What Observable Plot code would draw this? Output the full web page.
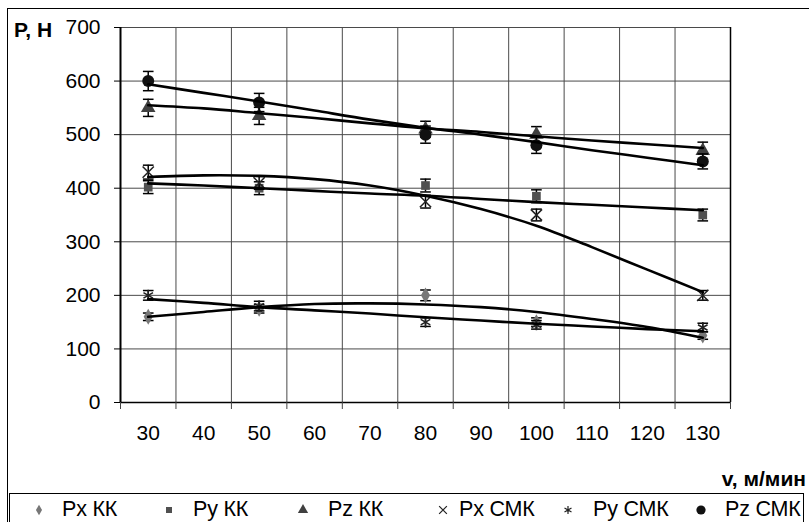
<!DOCTYPE html>
<html><head><meta charset="utf-8">
<script src="https://cdn.jsdelivr.net/npm/d3@7"></script>
<script src="https://cdn.jsdelivr.net/npm/@observablehq/plot@0.6"></script>
<style>
body{margin:0;background:#fff;font-family:"Liberation Sans",Arial,sans-serif;}
#wrap{position:relative;width:809px;height:522px;overflow:hidden;background:#fff;}
#chart{position:absolute;left:0;top:0;}
#frame{position:absolute;left:7px;top:8px;width:900px;height:700px;border:1px solid #000;pointer-events:none;}
.lbl{position:absolute;font-weight:bold;font-size:21px;line-height:21px;color:#000;white-space:nowrap;}
#legend{position:absolute;left:9px;top:493px;width:793px;height:60px;border:1px solid #000;background:#fff;}
.item{position:absolute;top:3px;height:24px;font-size:21.5px;line-height:24px;white-space:nowrap;letter-spacing:-0.2px;}
.item svg{position:absolute;top:1px;}
</style></head>
<body>
<div id="wrap">
  <div id="chart"></div>
  <div id="frame"></div>
  <div class="lbl" id="ylab" style="left:14px;top:19px;">P, H</div>
  <div class="lbl" id="xlab" style="right:3px;top:468px;">v, м/мин</div>
  <div id="legend"></div>
</div>
<script>
// ---- data ----
const categories = [30, 50, 80, 100, 130];
const xTicks = [30, 40, 50, 60, 70, 80, 90, 100, 110, 120, 130];
const xBoundaries = [25, 35, 45, 55, 65, 75, 85, 95, 105, 115, 125, 135];
const yTicks = [0, 100, 200, 300, 400, 500, 600, 700];
const seriesNames = ["Px КК", "Py КК", "Pz КК", "Px СМК", "Py СМК", "Pz СМК"];

const pxKK  = [160, 175, 200, 150, 125];
const pyKK  = [402, 400, 405, 385, 350];
const pzKK  = [550, 535, 510, 500, 470];
const pxSMK = [430, 410, 375, 350, 200];
const pySMK = [200, 180, 150, 145, 140];
const pzSMK = [600, 560, 500, 480, 450];

const errPxKK  = [7, 8, 10, 8, 7];
const errPyKK  = [12, 12, 12, 12, 11];
const errPzKK  = [16, 16, 15, 15, 16];
const errPxSMK = [13, 12, 12, 11, 9];
const errPySMK = [9, 9, 8, 8, 8];
const errPzSMK = [18, 17, 16, 15, 14];

// trend lines read at each category
const trendPxKK  = [160, 169, 178, 184, 185, 183, 178, 169, 156, 141, 121];
const trendPyKK  = [409, 405, 400, 395, 390, 386, 380, 374, 369, 364, 359];
const trendPzKK  = [555, 549, 540, 531, 521, 512, 505, 497, 489, 482, 475];
const trendPxSMK = [421, 424, 423, 417, 405, 386, 361, 330, 290, 248, 206];
const trendPySMK = [193, 186, 178, 172, 166, 159, 153, 147, 142, 137, 133];
const trendPzSMK = [594, 578, 562, 545, 528, 513, 500, 486, 471, 457, 443];

const values = [pxKK, pyKK, pzKK, pxSMK, pySMK, pzSMK];
const errs = [errPxKK, errPyKK, errPzKK, errPxSMK, errPySMK, errPzSMK];
const trends = [trendPxKK, trendPyKK, trendPzKK, trendPxSMK, trendPySMK, trendPzSMK];

// ---- styles ----
const styles = [
  {symbol: "diamond",  fill: "#777", stroke: "none", r: 4.8, sw: 0},
  {symbol: "square",   fill: "#505050", stroke: "none", r: 4.9, sw: 0},
  {symbol: "triangle", fill: "#404040", stroke: "none", r: 5.4, sw: 0},
  {symbol: "times",    fill: "none", stroke: "#222", r: 5.2, sw: 1.5},
  {symbol: "asterisk", fill: "none", stroke: "#222", r: 5.2, sw: 1.5},
  {symbol: "circle",   fill: "#111", stroke: "none", r: 6, sw: 0}
];

const points = [];
seriesNames.forEach((s, i) => categories.forEach((c, j) =>
  points.push({series: s, i, x: c, y: values[i][j], e: errs[i][j]})));
const trendRows = [];
seriesNames.forEach((s, i) => xTicks.forEach((c, j) =>
  trendRows.push({series: s, x: c, y: trends[i][j]})));

const cap = {draw(ctx, size) { const w = Math.sqrt(size) / 2; ctx.moveTo(-w, 0); ctx.lineTo(w, 0); }};

const marks = [
  Plot.ruleX(xBoundaries, {stroke: "#4a4a4a", strokeWidth: 1}),
  Plot.ruleY(yTicks, {stroke: "#4a4a4a", strokeWidth: 1}),
  Plot.ruleX([25], {stroke: "#000", strokeWidth: 2}),
  Plot.ruleX([135], {stroke: "#000", strokeWidth: 1.5}),
  Plot.ruleY([0], {stroke: "#000", strokeWidth: 1.5}),
  Plot.axisY({ticks: yTicks, tickSize: 6, tickPadding: 14, label: null, stroke: "#000", fill: "#000"}),
  Plot.axisX({ticks: xBoundaries, tickSize: 7, tickFormat: () => "", label: null, stroke: "#444"}),
  Plot.axisX({ticks: xTicks, tickSize: 0, tickPadding: 23, label: null, fill: "#000"})
];
seriesNames.forEach((s, i) => {
  const pts = points.filter(d => d.i === i);
  const st = styles[i];
  marks.push(
    Plot.ruleX(pts, {x: "x", y1: d => d.y - d.e, y2: d => d.y + d.e, stroke: "#000", strokeWidth: 1.5}),
    Plot.dot(pts, {x: "x", y: d => d.y + d.e, symbol: cap, r: 6, stroke: "#000", strokeWidth: 1.5}),
    Plot.dot(pts, {x: "x", y: d => d.y - d.e, symbol: cap, r: 6, stroke: "#000", strokeWidth: 1.5}),
    Plot.dot(pts, {x: "x", y: "y", symbol: st.symbol, r: st.r, fill: st.fill, stroke: st.stroke, strokeWidth: st.sw})
  );
});
marks.push(Plot.line(trendRows, {x: "x", y: "y", z: "series", stroke: "#000", strokeWidth: 2.6,
  strokeLinejoin: "round", curve: "catmull-rom"}));

const chart = Plot.plot({
  width: 809, height: 522,
  marginLeft: 120, marginRight: 79, marginTop: 27, marginBottom: 120,
  style: {fontFamily: '"Liberation Sans", Arial, sans-serif', fontSize: "21px", background: "transparent", color: "#000"},
  x: {type: "linear", domain: [25, 135]},
  y: {domain: [0, 700]},
  marks
});
document.getElementById("chart").appendChild(chart);

// ---- legend ----
const legend = document.getElementById("legend");
const symX = [29, 159, 293, 433, 558, 691];
const txtX = [52, 183, 318, 449, 583, 715];
const symMap = {diamond: d3.symbolDiamond, square: d3.symbolSquare, triangle: d3.symbolTriangle,
  times: d3.symbolTimes, asterisk: d3.symbolAsterisk, circle: d3.symbolCircle};
const legR = [3.2, 3.4, 3.8, 3.6, 3.8, 4.6];
seriesNames.forEach((name, i) => {
  const st = styles[i];
  const item = document.createElement("div");
  item.className = "item";
  item.style.left = "0px";
  const size = 22;
  const svg = d3.create("svg").attr("width", size).attr("height", size)
    .style("left", (symX[i] - size / 2) + "px");
  svg.append("path")
    .attr("transform", `translate(${size / 2},${size / 2 + 1})`)
    .attr("d", d3.symbol(symMap[st.symbol], Math.PI * legR[i] * legR[i])())
    .attr("fill", st.fill).attr("stroke", st.stroke === "none" ? "none" : st.stroke)
    .attr("stroke-width", st.sw ? 1.2 : 0);
  item.appendChild(svg.node());
  const t = document.createElement("span");
  t.textContent = name;
  t.style.position = "absolute";
  t.style.left = txtX[i] + "px";
  item.appendChild(t);
  legend.appendChild(item);
});
</script>
</body></html>
